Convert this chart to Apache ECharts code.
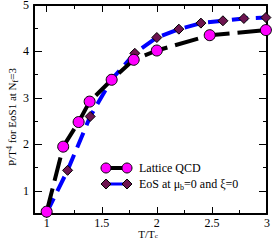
<!DOCTYPE html>
<html><head><meta charset="utf-8">
<script src="https://cdn.jsdelivr.net/npm/echarts@6/dist/echarts.min.js"></script>
<style>html,body{margin:0;padding:0;background:#fff}#c{width:273px;height:245px}</style>
</head><body><div id="c"></div>
<script>
const xMajorTicks = [1, 1.5, 2, 2.5, 3];
const xMinorTicks = [1.25, 1.75, 2.25, 2.75];
const yMajorTicks = [1, 2, 3, 4, 5];
const yMinorTicks = [1.5, 2.5, 3.5, 4.5];
const latticeT = [1.0, 1.15, 1.29, 1.39, 1.59, 1.79, 2.0, 2.48, 2.99];
const latticeP = [0.55, 1.95, 2.48, 2.92, 3.39, 3.82, 4.02, 4.35, 4.46];
const eosT = [1.0, 1.19, 1.395, 1.59, 1.8, 2.0, 2.2, 2.4, 2.6, 2.79, 2.99];
const eosP = [0.53, 1.44, 2.60, 3.40, 3.96, 4.30, 4.48, 4.61, 4.66, 4.71, 4.73];

const FONT = 'Liberation Serif';
const X_MIN = 0.885, X_MAX = 3, Y_MIN = 0.5, Y_MAX = 5;

function xAx(pos, ticks, len, showLine, labels) {
  return {
    type: 'value', position: pos, min: X_MIN, max: X_MAX, gridIndex: 0,
    axisLine: { show: showLine, onZero: false, lineStyle: { color: '#000', width: 2 } },
    axisTick: { show: true, inside: true, length: len, customValues: ticks, lineStyle: { color: '#000', width: 1 } },
    axisLabel: labels ? { show: true, customValues: ticks, color: '#000', fontFamily: FONT, fontSize: 12, margin: 3 } : { show: false },
    splitLine: { show: false }
  };
}
function yAx(pos, ticks, len, showLine, labels) {
  return {
    type: 'value', position: pos, min: Y_MIN, max: Y_MAX, gridIndex: 0,
    axisLine: { show: showLine, onZero: false, lineStyle: { color: '#000', width: 2 } },
    axisTick: { show: true, inside: true, length: len, customValues: ticks, lineStyle: { color: '#000', width: 1 } },
    axisLabel: labels ? { show: true, customValues: ticks, color: '#000', fontFamily: FONT, fontSize: 12, margin: 5 } : { show: false },
    splitLine: { show: false }
  };
}

const xAxes = [
  xAx('bottom', xMajorTicks, 7, true, true),
  xAx('bottom', xMinorTicks, 4, false, false),
  xAx('top', xMajorTicks, 7, true, false),
  xAx('top', xMinorTicks, 4, false, false)
];

const yAxes = [
  yAx('left', yMajorTicks, 8, true, true),
  yAx('left', yMinorTicks, 4, false, false),
  yAx('right', yMajorTicks, 8, true, false),
  yAx('right', yMinorTicks, 4, false, false)
];

const chart = echarts.init(document.getElementById('c'), null, { renderer: 'svg' });

function diamond(cx, cy, r) {
  return [[cx, cy - r], [cx + r, cy], [cx, cy + r], [cx - r, cy]];
}

chart.setOption({
  animation: false,
  backgroundColor: '#fff',
  grid: { left: 34, right: 6, top: 5, bottom: 31, containLabel: false, outerBoundsMode: 'none' },
  xAxis: xAxes,
  yAxis: yAxes,
  series: [
    {
      name: 'EoS at μb=0 and ξ=0', type: 'line', xAxisIndex: 0, yAxisIndex: 0,
      data: eosT.map((t, i) => [t, eosP[i]]),
      symbol: 'diamond', symbolSize: 10,
      itemStyle: { color: '#6e1450', borderColor: '#000', borderWidth: 1 },
      lineStyle: { color: '#0000ff', width: 4, type: [16, 8] },
      z: 2
    },
    {
      name: 'Lattice QCD', type: 'line', xAxisIndex: 0, yAxisIndex: 0,
      data: latticeT.map((t, i) => [t, latticeP[i]]),
      symbol: 'circle', symbolSize: 11,
      itemStyle: { color: '#ff00ff', borderColor: '#000', borderWidth: 1 },
      lineStyle: { color: '#000', width: 4, type: [24, 8] },
      z: 3
    }
  ],
  graphic: [
    {
      type: 'text', x: 12, y: 117, rotation: Math.PI / 2,
      style: {
        text: 'P/T{sup|4} for EoS1 at N{sub|f}=3',
        fontFamily: FONT, fontSize: 11, fill: '#000', align: 'center', verticalAlign: 'middle',
        rich: {
          sup: { fontSize: 8, fontFamily: FONT, verticalAlign: 'top', padding: [0, 0, 6, 0] },
          sub: { fontSize: 8, fontFamily: FONT, verticalAlign: 'bottom', padding: [6, 0, 0, 0] }
        }
      }
    },
    {
      type: 'text', x: 148, y: 234,
      style: {
        text: 'T/T{sub|c}', fontFamily: FONT, fontSize: 11, fill: '#000', align: 'center', verticalAlign: 'middle',
        rich: { sub: { fontSize: 7, fontFamily: FONT, verticalAlign: 'bottom', padding: [3, 0, 0, 0] } }
      }
    },
    { type: 'line', shape: { x1: 106, y1: 168, x2: 127, y2: 168 }, style: { stroke: '#000', lineWidth: 4 }, z: 10 },
    { type: 'circle', shape: { cx: 106, cy: 168, r: 5 }, style: { fill: '#ff00ff', stroke: '#000', lineWidth: 1 }, z: 11 },
    { type: 'circle', shape: { cx: 127, cy: 168, r: 5 }, style: { fill: '#ff00ff', stroke: '#000', lineWidth: 1 }, z: 11 },
    { type: 'text', x: 139, y: 168, style: { text: 'Lattice QCD', fontFamily: FONT, fontSize: 12, fill: '#000', verticalAlign: 'middle' }, z: 11 },
    { type: 'line', shape: { x1: 106, y1: 184, x2: 127, y2: 184 }, style: { stroke: '#0000ff', lineWidth: 3 }, z: 10 },
    { type: 'polygon', shape: { points: diamond(106, 184, 5) }, style: { fill: '#6e1450', stroke: '#000', lineWidth: 1 }, z: 11 },
    { type: 'polygon', shape: { points: diamond(127, 184, 5) }, style: { fill: '#6e1450', stroke: '#000', lineWidth: 1 }, z: 11 },
    {
      type: 'text', x: 139, y: 184,
      style: {
        text: 'EoS at μ{sub|b}=0 and ξ=0', fontFamily: FONT, fontSize: 12, fill: '#000', verticalAlign: 'middle',
        rich: { sub: { fontSize: 8, fontFamily: FONT, verticalAlign: 'bottom', padding: [6, 0, 0, 0] } }
      }, z: 11
    }
  ]
});
</script></body></html>
